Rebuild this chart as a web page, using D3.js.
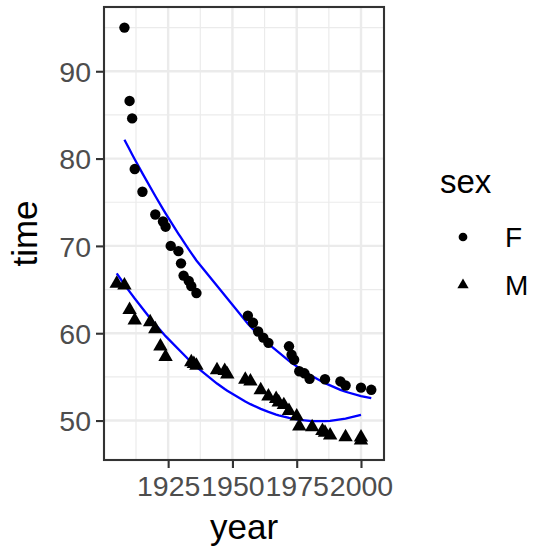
<!DOCTYPE html>
<html>
<head>
<meta charset="utf-8">
<script src="https://cdn.jsdelivr.net/npm/d3@7"></script>
<style>
  html, body { margin: 0; padding: 0; background: #fff; }
  svg { display: block; font-family: "Liberation Sans", Arial, Helvetica, sans-serif; }
</style>
</head>
<body>
<svg id="chart" width="533" height="550"></svg>
<script>
// 100 m freestyle world records
const yearsF = [1908, 1910, 1911, 1912, 1915, 1920, 1923, 1924, 1926, 1929, 1930, 1931, 1933, 1934, 1936,
                1956, 1958, 1960, 1962, 1964, 1972, 1973, 1974, 1976, 1978, 1980, 1986, 1992, 1994, 2000, 2004];
const timesF = [95.0, 86.6, 84.6, 78.8, 76.2, 73.6, 72.8, 72.2, 70.0, 69.4, 68.0, 66.6, 66.0, 65.4, 64.6,
                62.0, 61.2, 60.2, 59.5, 58.9, 58.5, 57.54, 56.96, 55.65, 55.41, 54.79, 54.73, 54.48, 54.01, 53.77, 53.52];
const yearsM = [1905, 1908, 1910, 1912, 1918, 1920, 1922, 1924, 1934, 1935, 1936, 1944, 1947, 1948, 1955, 1957,
                1961, 1964, 1967, 1968, 1970, 1972, 1975, 1976, 1981, 1985, 1986, 1988, 1994, 2000, 2000];
const timesM = [65.8, 65.6, 62.8, 61.6, 61.4, 60.6, 58.6, 57.4, 56.8, 56.6, 56.4, 55.9, 55.8, 55.4, 54.8, 54.6,
                53.6, 52.9, 52.6, 52.2, 51.9, 51.22, 50.59, 49.44, 49.36, 48.95, 48.74, 48.42, 48.21, 48.18, 47.84];
const sexLevels = ["F", "M"];
const xTicks = [1925, 1950, 1975, 2000];
const xMinor = [1912.5, 1937.5, 1962.5, 1987.5];
const yTicks = [50, 60, 70, 80, 90];
const yMinor = [55, 65, 75, 85, 95];

const rows = [
  ...yearsF.map((y, i) => ({ year: y, time: timesF[i], sex: "F" })),
  ...yearsM.map((y, i) => ({ year: y, time: timesM[i], sex: "M" }))
];

// least squares via normal equations
function lstsq(X, yv) {
  const p = X[0].length;
  const A = Array.from({ length: p }, () => new Array(p + 1).fill(0));
  X.forEach((row, n) => {
    for (let r = 0; r < p; r++) {
      A[r][p] += row[r] * yv[n];
      for (let c = 0; c < p; c++) A[r][c] += row[r] * row[c];
    }
  });
  for (let i = 0; i < p; i++) {
    let piv = i;
    for (let k = i + 1; k < p; k++) if (Math.abs(A[k][i]) > Math.abs(A[piv][i])) piv = k;
    [A[i], A[piv]] = [A[piv], A[i]];
    for (let k = i + 1; k < p; k++) {
      const f = A[k][i] / A[i][i];
      for (let j = i; j <= p; j++) A[k][j] -= f * A[i][j];
    }
  }
  const beta = new Array(p).fill(0);
  for (let i = p - 1; i >= 0; i--) {
    let s = A[i][p];
    for (let j = i + 1; j < p; j++) s -= A[i][j] * beta[j];
    beta[i] = s / A[i][i];
  }
  return beta;
}

// model: time ~ year * sex + year^2
const yearMean = d3.mean(rows, d => d.year);
const design = d => {
  const u = d.year - yearMean, m = d.sex === "M" ? 1 : 0;
  return [1, u, u * u, m, m * u];
};
const beta = lstsq(rows.map(design), rows.map(d => d.time));
const predict = d => d3.sum(design(d).map((v, i) => v * beta[i]));

const fitted = sexLevels.map(s =>
  Array.from(new Set(rows.filter(d => d.sex === s).map(d => d.year))).sort(d3.ascending)
    .map(yr => ({ year: yr, time: predict({ year: yr, sex: s }) })));

const svg = d3.select("#chart");
const panel = { left: 104, right: 384, top: 7, bottom: 460 };

const xExt = d3.extent(rows, d => d.year), xPad = (xExt[1] - xExt[0]) * 0.05;
const yExt = d3.extent(rows, d => d.time), yPad = (yExt[1] - yExt[0]) * 0.05;
const x = d3.scaleLinear().domain([xExt[0] - xPad, xExt[1] + xPad]).range([panel.left, panel.right]);
const y = d3.scaleLinear().domain([yExt[0] - yPad, yExt[1] + yPad]).range([panel.bottom, panel.top]);

// panel background and grid
svg.append("rect").attr("x", panel.left).attr("y", panel.top)
  .attr("width", panel.right - panel.left).attr("height", panel.bottom - panel.top).attr("fill", "#fff");

const grid = svg.append("g");
grid.selectAll(".xmin").data(xMinor).join("line")
  .attr("x1", d => x(d)).attr("x2", d => x(d)).attr("y1", panel.top).attr("y2", panel.bottom)
  .attr("stroke", "#EBEBEB").attr("stroke-width", 1.2);
grid.selectAll(".ymin").data(yMinor).join("line")
  .attr("y1", d => y(d)).attr("y2", d => y(d)).attr("x1", panel.left).attr("x2", panel.right)
  .attr("stroke", "#EBEBEB").attr("stroke-width", 1.2);
grid.selectAll(".xmaj").data(xTicks).join("line")
  .attr("x1", d => x(d)).attr("x2", d => x(d)).attr("y1", panel.top).attr("y2", panel.bottom)
  .attr("stroke", "#EBEBEB").attr("stroke-width", 2.4);
grid.selectAll(".ymaj").data(yTicks).join("line")
  .attr("y1", d => y(d)).attr("y2", d => y(d)).attr("x1", panel.left).attr("x2", panel.right)
  .attr("stroke", "#EBEBEB").attr("stroke-width", 2.4);

// fitted curves
const line = d3.line().x(d => x(d.year)).y(d => y(d.time));
svg.append("g").selectAll("path").data(fitted).join("path")
  .attr("d", line).attr("fill", "none").attr("stroke", "#0000FF").attr("stroke-width", 2.3);

// points: circle for F, triangle for M
const symbolFor = d3.scaleOrdinal().domain(sexLevels).range([d3.symbolCircle, d3.symbolTriangle]);
const sizeFor = d3.scaleOrdinal().domain(sexLevels).range([85, 90]);
svg.append("g").selectAll("path").data(rows).join("path")
  .attr("transform", d => `translate(${x(d.year)},${y(d.time) + (d.sex === "M" ? 1 : 0)})`)
  .attr("d", d => d3.symbol(symbolFor(d.sex), sizeFor(d.sex))())
  .attr("fill", "#000");

// panel border
svg.append("rect").attr("x", panel.left).attr("y", panel.top)
  .attr("width", panel.right - panel.left).attr("height", panel.bottom - panel.top)
  .attr("fill", "none").attr("stroke", "#333333").attr("stroke-width", 2.1);

// axes
const xAxis = d3.axisBottom(x).tickValues(xTicks).tickFormat(d3.format("d")).tickSize(8).tickPadding(8);
const gx = svg.append("g").attr("transform", `translate(0,${panel.bottom})`).call(xAxis);
const yAxis = d3.axisLeft(y).tickValues(yTicks).tickSize(8).tickPadding(5);
const gy = svg.append("g").attr("transform", `translate(${panel.left},0)`).call(yAxis);
[gx, gy].forEach(g => {
  g.select(".domain").remove();
  g.selectAll(".tick line").attr("stroke", "#333333").attr("stroke-width", 2.1);
  g.selectAll(".tick text").attr("fill", "#4D4D4D").style("font-size", "28.5px")
    .style("font-family", "'Liberation Sans', Arial, sans-serif");
});
gy.selectAll(".tick text").attr("dy", "0.36em");

// axis titles
svg.append("text").attr("x", (panel.left + panel.right) / 2).attr("y", 539)
  .attr("text-anchor", "middle").style("font-size", "35px").attr("fill", "#000").text("year");
svg.append("text").attr("transform", `translate(37,${(panel.top + panel.bottom) / 2}) rotate(-90)`)
  .attr("text-anchor", "middle").style("font-size", "35px").attr("fill", "#000").text("time");

// legend
const legend = svg.append("g").attr("transform", "translate(440,0)");
legend.append("text").attr("x", 0).attr("y", 193).style("font-size", "33px").text("sex");
const keys = legend.selectAll(".key").data(sexLevels).join("g")
  .attr("transform", (d, i) => `translate(0,${237 + i * 48})`);
keys.append("path").attr("transform", "translate(23,0)")
  .attr("d", d => d3.symbol(symbolFor(d), d === "F" ? 60 : 55)()).attr("fill", "#000");
keys.append("text").attr("x", 65).attr("y", 10).style("font-size", "28px").text(d => d);
</script>
</body>
</html>
